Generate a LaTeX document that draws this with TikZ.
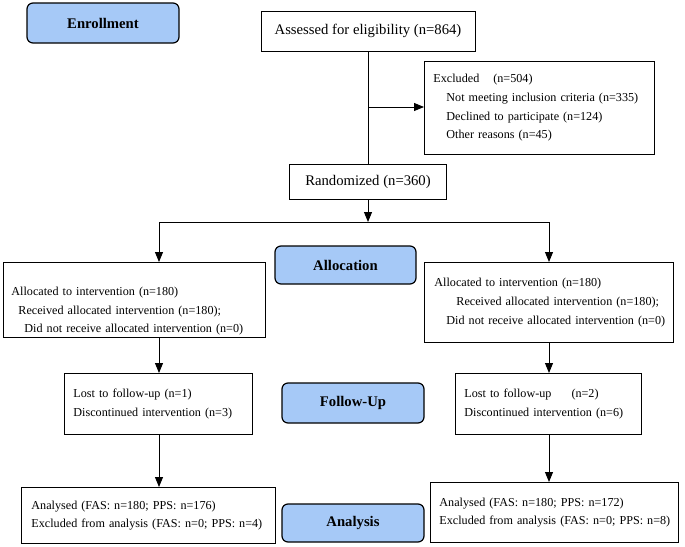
\documentclass[tikz,border=0pt]{standalone}
\usepackage{fontspec}
\setmainfont{Liberation Serif}
\usepackage{tikz}
\usetikzlibrary{arrows.meta}
\usetikzlibrary{positioning}
\usetikzlibrary{math}
\definecolor{stageblue}{RGB}{166,201,247}
\tikzstyle{box} = [draw, rectangle, anchor=north west, align=left, inner ysep=0pt, line width=0.9pt, font=\fontsize{12.15}{18.7}\selectfont]
\tikzstyle{topbox} = [draw, rectangle, align=center, inner sep=0pt, line width=0.9pt, font=\fontsize{14.7}{17}\selectfont]
\tikzstyle{stage} = [draw, rounded corners=6pt, fill=stageblue, line width=1.2pt, minimum width=142pt, minimum height=39pt, font=\fontsize{14.7}{17}\selectfont\bfseries]
\tikzstyle{line} = [line width=0.9pt]
\tikzstyle{arrow} = [-{Triangle[length=10pt,width=8pt]}, line width=0.9pt]

\begin{document}
\begin{tikzpicture}[x=1pt, y=-1pt]

  \useasboundingbox (0,0) rectangle (685,546);

  \tikzmath{\sx = 368; \lx = 159; \rx = 549; \fy = 222;}

  % Enrollment
  \node[stage, minimum width=152pt, minimum height=40pt] (enrol) at (103,23) {Enrollment};

  \node[topbox, minimum width=214pt, minimum height=40pt] (assess) at (\sx,31) {Assessed for eligibility (n=864)};

  \node[box, text width=212pt, inner xsep=9pt, minimum height=93pt] (excl) at (424,61)
    {Excluded\hspace{14pt}(n=504)\\
     \hspace*{13pt}\mbox{Not meeting inclusion criteria (n=335)}\\
     \hspace*{13pt}Declined to participate (n=124)\\
     \hspace*{13pt}Other reasons (n=45)};

  \node[topbox, minimum width=157pt, minimum height=35pt] (rand) at (\sx,181.5) {Randomized (n=360)};

  \coordinate (split) at (\sx,107);
  \coordinate (fork) at (\sx,\fy);
  \coordinate (forkL) at (\lx,\fy);
  \coordinate (forkR) at (\rx,\fy);

  \draw[line] (assess) -- (rand);
  \draw[arrow] (split) -- (excl.west |- split);
  \draw[arrow] (rand) -- (fork);
  \draw[line] (forkL) -- (forkR);

  % Allocation
  \node[stage, minimum width=141pt, minimum height=38pt] (alloc) at (345.5,265) {Allocation};

  \node[box, text width=246pt, inner xsep=8pt, minimum height=75pt] (allocL) at (3,262)
    {\rule{0pt}{31pt}Allocated to intervention (n=180)\\
     \hspace*{7pt}\mbox{Received allocated intervention (n=180);}\\
     \hspace*{13pt}\mbox{Did not receive allocated intervention (n=0)}};

  \node[box, text width=235pt, inner xsep=7pt, minimum height=80pt] (allocR) at (424,262)
    {\hspace*{3pt}Allocated to intervention (n=180)\\
     \hspace*{25pt}\mbox{Received allocated intervention (n=180);}\\
     \hspace*{15pt}\mbox{Did not receive allocated intervention (n=0)}};

  \draw[arrow] (forkL) -- (allocL.north -| forkL);
  \draw[arrow] (forkR) -- (allocR.north -| forkR);

  % Follow-Up
  \node[stage, minimum height=40pt] (follow) at (353,403) {Follow-Up};

  \node[box, text width=170pt, inner xsep=9pt, minimum height=61pt] (followL) at (64,373)
    {Lost to follow-up (n=1)\\
     Discontinued intervention (n=3)};

  \node[box, text width=168pt, inner xsep=9pt, minimum height=61pt] (followR) at (455,373)
    {Lost to follow-up\hspace{20pt}(n=2)\\
     Discontinued intervention (n=6)};

  \draw[arrow] (allocL.south -| forkL) -- (followL.north -| forkL);
  \draw[arrow] (allocR.south -| forkR) -- (followR.north -| forkR);

  % Analysis
  \node[stage, minimum height=38pt] (analysis) at (353,523) {Analysis};

  \node[box, text width=240pt, inner xsep=7pt, minimum height=56pt] (anaL) at (21,487)
    {\hspace*{3pt}\mbox{Analysed (FAS: n=180; PPS: n=176)}\\
     \hspace*{3pt}\mbox{Excluded from analysis (FAS: n=0; PPS: n=4)}};

  \node[box, text width=236pt, inner xsep=6pt, minimum height=60pt] (anaR) at (430,482)
    {\hspace*{3pt}\mbox{Analysed (FAS: n=180; PPS: n=172)}\\
     \hspace*{3pt}\mbox{Excluded from analysis (FAS: n=0; PPS: n=8)}};

  \draw[arrow] (followL.south -| forkL) -- (anaL.north -| forkL);
  \draw[arrow] (followR.south -| forkR) -- (anaR.north -| forkR);

\end{tikzpicture}
\end{document}
